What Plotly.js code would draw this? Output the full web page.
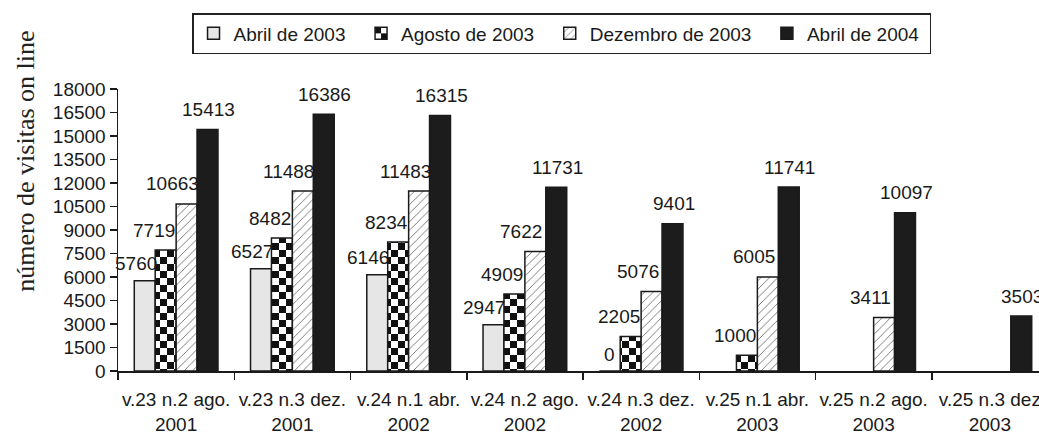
<!DOCTYPE html>
<html>
<head>
<meta charset="utf-8">
<script src="https://cdn.plot.ly/plotly-3.0.1.min.js"></script>
<style>
html, body { margin: 0; padding: 0; overflow: hidden; background: #fff; }
#chart { width: 1060px; height: 432px; }
</style>
</head>
<body>
<div id="chart"></div>
<script>
// ---- data ----
const categories = [
  "v.23 n.2 ago.<br>2001", "v.23 n.3 dez.<br>2001", "v.24 n.1 abr.<br>2002", "v.24 n.2 ago.<br>2002",
  "v.24 n.3 dez.<br>2002", "v.25 n.1 abr.<br>2003", "v.25 n.2 ago.<br>2003", "v.25 n.3 dez<br>2003"
];
const seriesNames = ["Abril de 2003", "Agosto de 2003", "Dezembro de 2003", "Abril de 2004"];
const abril2003 = [5760, 6527, 6146, 2947, 0, null, null, null];
const agosto2003 = [7719, 8482, 8234, 4909, 2205, 1000, null, null];
const dezembro2003 = [10663, 11488, 11483, 7622, 5076, 6005, 3411, null];
const abril2004 = [15413, 16386, 16315, 11731, 9401, 11741, 10097, 3503];
const yTicks = [0, 1500, 3000, 4500, 6000, 7500, 9000, 10500, 12000, 13500, 15000, 16500, 18000];
const yTitle = "número de visitas on line";

// ---- styling ----
const TXT = '#1a1a1a';
const SANS = 'Liberation Sans, Arial, sans-serif';
const FS = 19;
const BARGAP = 0.28;
const nS = 4;
const bw = (1 - BARGAP) / nS;
const centers = [0, 1, 2, 3].map(k => -(1 - BARGAP) / 2 + bw * (k + 0.5));
const labelDx = [-9, -12, -14, 1];
const labelDy = [17, 20, 20, 20];
const legendPad = ['\u00a0\u00a0', '\u00a0\u00a0', '\u00a0\u00a0', '\u00a0'];

const values = [abril2003, agosto2003, dezembro2003, abril2004];
const lineStyle = { color: '#1a1a1a', width: 1.5 };
const markers = [
  { color: '#e6e6e6', line: lineStyle },
  { color: '#111111', line: lineStyle },
  { color: '#ffffff', line: lineStyle, pattern: { shape: '/', fgcolor: '#666', bgcolor: '#ffffff', size: 6, solidity: 0.14, fillmode: 'replace' } },
  { color: '#1c1c1c', line: lineStyle }
];

const xIdx = categories.map((c, i) => i);
const data = values.map((v, s) => ({
  type: 'bar',
  name: seriesNames[s] + legendPad[s],
  x: categories,
  y: v,
  marker: markers[s],
  hoverinfo: 'skip'
}));

const annotations = [];
values.forEach((v, s) => {
  v.forEach((val, i) => {
    if (val === null) return;
    annotations.push({
      x: xIdx[i] + centers[s], y: val, xref: 'x', yref: 'y',
      text: String(val), showarrow: false,
      xanchor: 'center', yanchor: 'middle',
      xshift: val === 0 ? 0 : labelDx[s], yshift: labelDy[s],
      font: { family: SANS, size: FS, color: TXT }
    });
  });
});
annotations.push({
  xref: 'paper', yref: 'paper', x: -0.099, y: 0.745,
  text: yTitle, showarrow: false, textangle: -90,
  xanchor: 'center', yanchor: 'middle',
  font: { family: 'Liberation Serif, Times New Roman, serif', size: 26, color: '#222' }
});

const layout = {
  width: 1060, height: 432,
  margin: { l: 118, r: 12, t: 89, b: 61 },
  paper_bgcolor: '#fff', plot_bgcolor: '#fff',
  barmode: 'group', bargap: BARGAP, bargroupgap: 0,
  showlegend: true,
  legend: {
    orientation: 'h', x: 0.0796, xanchor: 'left', y: 1.2695, yanchor: 'top',
    bordercolor: '#222', borderwidth: 1.5, bgcolor: '#fff',
    font: { family: SANS, size: FS, color: TXT }, traceorder: 'normal'
  },
  xaxis: {
    type: 'category', showgrid: false, zeroline: false, automargin: false,
    showline: true, linecolor: '#1a1a1a', linewidth: 1.5,
    ticks: 'outside', tickson: 'boundaries', ticklen: 7, tickwidth: 1.5, tickcolor: '#1a1a1a',
    tickangle: 0,
    tickfont: { family: SANS, size: FS, color: TXT }, ticklabelstandoff: 11,
    range: [-0.5, categories.length - 0.5]
  },
  yaxis: {
    range: [0, 18000], tickvals: yTicks, ticktext: yTicks.map(String), automargin: false,
    showgrid: false, zeroline: false,
    showline: true, linecolor: '#1a1a1a', linewidth: 1.5,
    ticks: 'outside', ticklen: 7, tickwidth: 1.5, tickcolor: '#1a1a1a',
    tickfont: { family: SANS, size: FS, color: TXT }
  },
  annotations: annotations
};

const gd = document.getElementById('chart');
Plotly.newPlot(gd, data, layout, { staticPlot: true, displayModeBar: false }).then(() => {
  const ns = 'http://www.w3.org/2000/svg';
  const svg = gd.querySelector('svg.main-svg');
  let defs = svg.querySelector('defs');
  const pat = document.createElementNS(ns, 'pattern');
  pat.setAttribute('id', 'checkerpat');
  pat.setAttribute('patternUnits', 'userSpaceOnUse');
  pat.setAttribute('width', '14');
  pat.setAttribute('height', '14');
  const mk = (x, y, w, h, f) => {
    const r = document.createElementNS(ns, 'rect');
    r.setAttribute('x', x); r.setAttribute('y', y);
    r.setAttribute('width', w); r.setAttribute('height', h);
    r.setAttribute('fill', f);
    pat.appendChild(r);
  };
  mk(0, 0, 14, 14, '#ffffff');
  mk(0, 0, 7, 7, '#111111');
  mk(7, 7, 7, 7, '#111111');
  defs.appendChild(pat);
  const barTraces = gd.querySelectorAll('.barlayer .trace.bars');
  if (barTraces[1]) barTraces[1].querySelectorAll('path').forEach(p => { p.style.fill = 'url(#checkerpat)'; });
  const legTraces = gd.querySelectorAll('.legend .traces');
  if (legTraces[1]) legTraces[1].querySelectorAll('.legendpoints path').forEach(p => { p.style.fill = 'url(#checkerpat)'; });
});
</script>
</body>
</html>
